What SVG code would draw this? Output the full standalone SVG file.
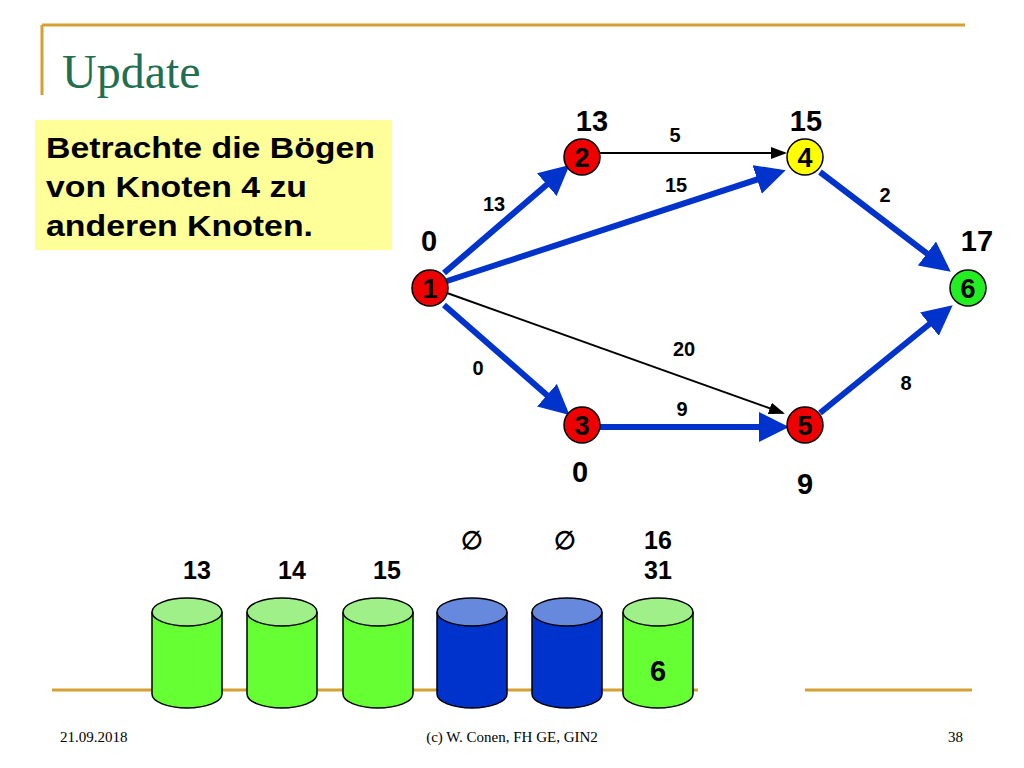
<svg xmlns="http://www.w3.org/2000/svg" width="1024" height="768" viewBox="0 0 1024 768">
<style>
.n{stroke:#000;stroke-width:1.5}
.nt{font-family:"Liberation Sans",Arial,sans-serif;font-weight:bold;font-size:27px;text-anchor:middle}
.l{font-family:"Liberation Sans",Arial,sans-serif;font-weight:bold;font-size:20px;text-anchor:middle}
.d{font-family:"Liberation Sans",Arial,sans-serif;font-weight:bold;font-size:29px;text-anchor:middle}
.c{font-family:"Liberation Sans",Arial,sans-serif;font-weight:bold;font-size:25px;text-anchor:middle}
.b{stroke:#0033cc;stroke-width:6;fill:none;marker-end:url(#ab)}
.k{stroke:#000;stroke-width:2;fill:none;marker-end:url(#ak)}
.f{font-family:"Liberation Serif",serif;font-size:15px}
</style>
<defs>
<marker id="ab" markerWidth="5" markerHeight="5" refX="4" refY="2.5" orient="auto" markerUnits="strokeWidth"><path d="M0,0L5,2.5L0,5z" fill="#0033cc"/></marker>
<marker id="ak" markerWidth="8" markerHeight="8" refX="7" refY="4" orient="auto" markerUnits="strokeWidth"><path d="M0,1L8,4L0,7z" fill="#000"/></marker>
</defs>
<rect width="1024" height="768" fill="#fff"/>
<path d="M42,25V95M42,25H965" stroke="#d4a032" stroke-width="3" fill="none"/>
<text x="62" y="88" font-family="Liberation Serif,serif" font-size="48" fill="#1f6f50">Update</text>
<rect x="35" y="120" width="357" height="130" fill="#ffff99"/>
<g font-family="Liberation Sans,Arial,sans-serif" font-weight="bold" font-size="29" lengthAdjust="spacingAndGlyphs">
<text x="46" y="158" textLength="329" lengthAdjust="spacingAndGlyphs">Betrachte die Bögen</text>
<text x="46" y="197" textLength="261" lengthAdjust="spacingAndGlyphs">von Knoten 4 zu</text>
<text x="46" y="236" textLength="267" lengthAdjust="spacingAndGlyphs">anderen Knoten.</text>
</g>
<g id="connectors">
<path class="b" d="M444,273L565,169"/>
<path class="k" d="M600,153H785"/>
<path class="b" d="M447,281L780,172"/>
<path class="b" d="M820,172L946,268"/>
<path class="k" d="M447,293L783,413"/>
<path class="b" d="M444,305L565,411"/>
<path class="b" d="M600,427H783"/>
<path class="b" d="M820,413L948,309"/>
</g>
<g class="l">
<text x="675" y="142">5</text><text x="676" y="192">15</text><text x="494" y="211">13</text>
<text x="885" y="202">2</text><text x="684" y="356">20</text><text x="478" y="375">0</text>
<text x="682" y="416">9</text><text x="906" y="390">8</text>
</g>
<g class="d">
<text x="592" y="131">13</text><text x="806" y="131">15</text><text x="429" y="251">0</text>
<text x="977" y="251">17</text><text x="580" y="482">0</text><text x="805" y="494">9</text>
</g>
<g id="n1"><circle class="n" cx="430" cy="288" r="18" fill="#ee0000"/><text class="nt" x="430" y="298">1</text></g>
<g id="n2"><circle class="n" cx="582" cy="157" r="18" fill="#ee0000"/><text class="nt" x="582" y="167">2</text></g>
<g id="n3"><circle class="n" cx="582" cy="425" r="18" fill="#ee0000"/><text class="nt" x="582" y="435">3</text></g>
<g id="n4"><circle class="n" cx="805" cy="157" r="18" fill="#ffff00"/><text class="nt" x="805" y="167">4</text></g>
<g id="n5"><circle class="n" cx="805" cy="425" r="18" fill="#ee0000"/><text class="nt" x="805" y="435">5</text></g>
<g id="n6"><circle class="n" cx="968" cy="288" r="18" fill="#22ee22"/><text class="nt" x="968" y="298">6</text></g>
<path d="M52,690H698M805,690H972" stroke="#d4a032" stroke-width="3"/>
<g class="c">
<text x="197" y="579">13</text><text x="292" y="579">14</text><text x="387" y="579">15</text>
<text x="472" y="549">∅</text><text x="565" y="549">∅</text>
<text x="658" y="549">16</text><text x="658" y="579">31</text>
</g>
<g stroke="#000" stroke-width="1.5">
<g id="c1"><path d="M152,612V694A35,14 0 0 0 222,694V612" fill="#66ff33"/><ellipse cx="187" cy="612" rx="35" ry="14" fill="#a0f08a"/></g>
<g id="c2"><path d="M247,612V694A35,14 0 0 0 317,694V612" fill="#66ff33"/><ellipse cx="282" cy="612" rx="35" ry="14" fill="#a0f08a"/></g>
<g id="c3"><path d="M343,612V694A35,14 0 0 0 413,694V612" fill="#66ff33"/><ellipse cx="378" cy="612" rx="35" ry="14" fill="#a0f08a"/></g>
<g id="c4"><path d="M437,612V694A35,14 0 0 0 507,694V612" fill="#0033cc"/><ellipse cx="472" cy="612" rx="35" ry="14" fill="#6688dd"/></g>
<g id="c5"><path d="M532,612V694A35,14 0 0 0 602,694V612" fill="#0033cc"/><ellipse cx="567" cy="612" rx="35" ry="14" fill="#6688dd"/></g>
<g id="c6"><path d="M623,612V694A35,14 0 0 0 693,694V612" fill="#66ff33"/><ellipse cx="658" cy="612" rx="35" ry="14" fill="#a0f08a"/></g>
</g>
<text class="d" x="658" y="681">6</text>
<text class="f" x="60" y="742">21.09.2018</text>
<text class="f" x="512" y="742" text-anchor="middle">(c) W. Conen, FH GE, GIN2</text>
<text class="f" x="948" y="742">38</text>
</svg>
